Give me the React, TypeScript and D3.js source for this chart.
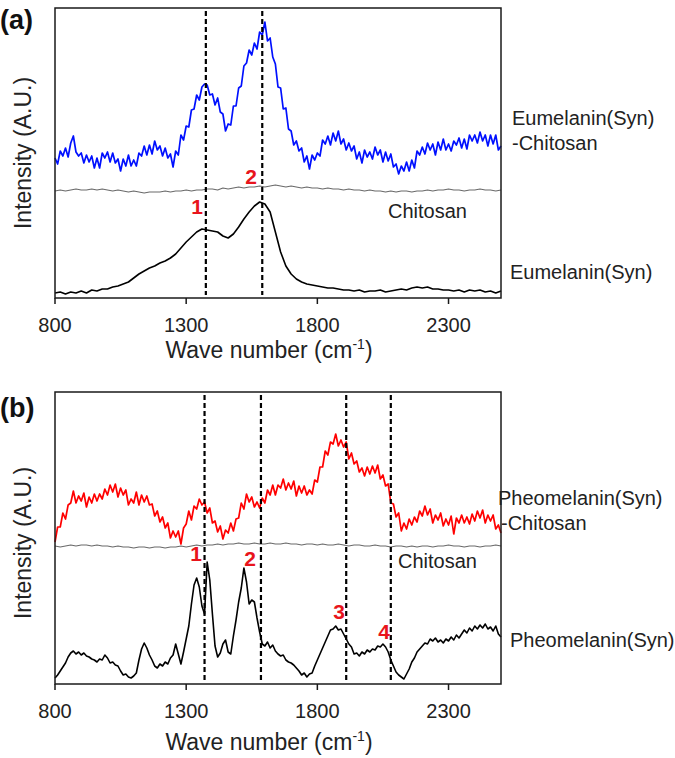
import React from 'react';
import * as d3 from 'd3';

// sampling grids (cm-1)
const waveFine = d3.range(800, 2501, 10);
const waveCoarse = d3.range(800, 2501, 20);
const xTicks = [800, 1300, 1800, 2300];

// (a) Eumelanin(Syn)-Chitosan, blue
const eumelaninChitosan = [
  140, 134, 147, 142, 150, 141, 155, 162, 146, 142,
  145, 135, 143, 136, 142, 130, 140, 130, 145, 140,
  146, 136, 145, 135, 139, 127, 139, 132, 143, 132,
  138, 132, 145, 142, 152, 143, 153, 144, 157, 148,
  152, 142, 150, 140, 144, 131, 147, 143, 163, 158,
  172, 171, 188, 189, 203, 198, 211, 214, 213, 203,
  204, 193, 200, 186, 184, 167, 174, 173, 192, 192,
  210, 212, 232, 235, 248, 243, 255, 249, 266, 263,
  276, 257, 260, 241, 234, 211, 210, 189, 190, 169,
  167, 153, 157, 147, 150, 136, 142, 129, 143, 138,
  145, 142, 158, 154, 162, 153, 165, 157, 167, 154,
  159, 148, 155, 147, 152, 139, 146, 135, 148, 141,
  146, 139, 151, 143, 148, 136, 146, 137, 144, 131,
  134, 124, 132, 127, 136, 127, 138, 130, 147, 143,
  151, 144, 155, 148, 154, 143, 156, 148, 159, 148,
  154, 147, 157, 153, 160, 150, 159, 149, 163, 157,
  163, 155, 166, 157, 163, 152, 163, 154, 163, 148,
  152,
];

// (a) Chitosan, gray
const chitosanA = [
  107, 108, 107, 108, 109, 108, 108, 109, 108, 109,
  108, 107, 108, 107, 106, 107, 106, 105, 106, 106,
  106, 107, 106, 107, 107, 108, 107, 108, 108, 109,
  109, 108, 110, 109, 110, 111, 110, 111, 111, 112,
  111, 112, 113, 112, 111, 112, 111, 110, 111, 110,
  110, 109, 110, 109, 109, 108, 109, 108, 108, 107,
  108, 107, 107, 106, 107, 106, 107, 107, 106, 107,
  107, 108, 107, 108, 108, 109, 108, 108, 107, 108,
  108, 109, 108, 108, 107,
  108,
];

// (a) Eumelanin(Syn), black
const eumelanin = [
  5, 6, 4, 6, 5, 7, 5, 8, 7, 9,
  9, 11, 12, 14, 16, 20, 24, 27, 30, 32,
  35, 37, 40, 44, 50, 56, 61, 66, 69, 68,
  67, 66, 62, 60, 64, 71, 79, 86, 92, 96,
  94, 86, 66, 46, 32, 24, 19, 16, 14, 13,
  12, 11, 10, 10, 9, 8, 8, 7, 8, 6,
  7, 7, 8, 6, 7, 8, 9, 8, 10, 11,
  10, 11, 9, 9, 8, 8, 7, 8, 6, 8,
  7, 8, 6, 7, 5,
  7,
];

// (b) Pheomelanin(Syn)-Chitosan, red
const pheomelaninChitosan = [
  142, 157, 157, 171, 165, 179, 181, 193, 181, 188,
  183, 191, 177, 187, 181, 190, 183, 190, 185, 195,
  189, 199, 192, 200, 187, 196, 189, 194, 179, 185,
  181, 192, 179, 189, 182, 188, 179, 180, 168, 173,
  162, 167, 156, 161, 146, 153, 147, 153, 140, 156,
  160, 173, 164, 178, 175, 185, 179, 182, 171, 176,
  161, 163, 152, 158, 145, 154, 151, 161, 153, 165,
  166, 181, 175, 190, 182, 187, 177, 182, 176, 186,
  181, 194, 189, 199, 189, 199, 196, 205, 194, 201,
  195, 203, 188, 198, 191, 198, 189, 194, 190, 204,
  202, 217, 217, 233, 229, 242, 240, 250, 238, 244,
  237, 242, 225, 231, 220, 223, 212, 216, 208, 217,
  210, 218, 211, 219, 205, 209, 198, 200, 181, 180,
  167, 171, 153, 161, 155, 165, 159, 167, 162, 173,
  168, 178, 169, 175, 161, 169, 164, 171, 158, 165,
  159, 168, 150, 166, 161, 169, 161, 167, 160, 170,
  163, 173, 166, 174, 161, 169, 163, 169, 155, 159,
  151,
];

// (b) Chitosan, gray
const chitosanB = [
  138, 137, 138, 139, 138, 139, 139, 138, 139, 138,
  138, 137, 138, 137, 137, 136, 137, 137, 136, 137,
  137, 136, 137, 137, 138, 137, 138, 139, 138, 139,
  139, 140, 139, 140, 140, 141, 140, 140, 141, 140,
  140, 141, 140, 140, 141, 140, 140, 139, 140, 140,
  139, 140, 139, 139, 140, 139, 138, 139, 139, 138,
  138, 139, 138, 138, 137, 138, 138, 137, 138, 137,
  138, 138, 137, 138, 138, 139, 138, 138, 137, 138,
  138, 137, 138, 138, 139,
  138,
];

// (b) Pheomelanin(Syn), black
const pheomelanin = [
  6, 9, 13, 17, 21, 27, 31, 33, 30, 32,
  29, 31, 28, 27, 25, 24, 22, 25, 24, 29,
  26, 21, 22, 19, 18, 13, 9, 10, 7, 6,
  8, 11, 24, 35, 41, 36, 29, 24, 18, 16,
  20, 18, 22, 20, 26, 29, 40, 30, 20, 32,
  45, 58, 80, 99, 106, 97, 78, 70, 122, 104,
  70, 38, 27, 31, 40, 44, 32, 30, 48, 64,
  82, 96, 116, 102, 80, 84, 82, 66, 52, 40,
  38, 42, 36, 39, 33, 30, 28, 29, 24, 22,
  21, 19, 16, 13, 9, 11, 7, 10, 11, 18,
  24, 30, 36, 42, 48, 54, 55, 58, 54, 55,
  50, 45, 40, 37, 30, 31, 28, 32, 30, 34,
  32, 35, 34, 38, 37, 40, 37, 32, 24, 18,
  12, 9, 7, 5, 10, 15, 22, 26, 32, 35,
  38, 41, 40, 45, 43, 46, 42, 44, 41, 45,
  43, 47, 44, 49, 46, 50, 54, 51, 56, 53,
  58, 55, 59, 56, 60, 55, 57, 53, 58, 50,
  47,
];

const bandsA = [1375, 1590];
const bandsB = [1370, 1585, 1910, 2080];

const FONT = '"Liberation Sans", Arial, Helvetica, sans-serif';
const LEFT = 55;
const RIGHT = 501;
const RED = '#e8141c';

type Series = { xs: number[]; ys: number[]; color: string; width: number };
type Label = { text: string; x: number; y: number; anchor?: string; red?: boolean };

interface PanelProps {
  top: number;
  bottom: number;
  yMax: number;
  letter: string;
  letterY: number;
  tickY: number;
  titleY: number;
  yTitleY: number;
  series: Series[];
  bands: number[];
  labels: Label[];
}

const Panel: React.FC<PanelProps> = ({
  top, bottom, yMax, letter, letterY, tickY, titleY, yTitleY, series, bands, labels,
}) => {
  const x = d3.scaleLinear().domain([800, 2500]).range([LEFT, RIGHT]);
  const y = d3.scaleLinear().domain([0, yMax]).range([bottom, top]);

  return (
    <g>
      {series.map((s, i) => {
        const path = d3.line<number>()
          .x((_, j) => x(s.xs[j]))
          .y(d => y(d))(s.ys);
        return (
          <path key={i} d={path || ''} fill="none" stroke={s.color}
            strokeWidth={s.width} strokeLinejoin="round" />
        );
      })}

      {bands.map(b => (
        <line key={b} x1={x(b)} x2={x(b)} y1={top + 3} y2={bottom - 3}
          stroke="#000" strokeWidth={2.2} strokeDasharray="5,3" />
      ))}

      <rect x={LEFT} y={top} width={RIGHT - LEFT} height={bottom - top}
        fill="none" stroke="#1a1a1a" strokeWidth={1.5} />

      {xTicks.map(t => (
        <g key={t}>
          <line x1={x(t)} x2={x(t)} y1={bottom} y2={bottom + 6} stroke="#1a1a1a" strokeWidth={1.5} />
          <text x={x(t)} y={tickY} textAnchor="middle" fontSize={20} fill="#222">{t}</text>
        </g>
      ))}

      <text x={269} y={titleY} textAnchor="middle" fontSize={23} fill="#222">
        Wave number (cm<tspan fontSize={14} dy={-9}>-1</tspan><tspan dy={9}>)</tspan>
      </text>

      <text transform={`translate(31, ${yTitleY}) rotate(-90)`} textAnchor="middle"
        fontSize={23} fill="#222">Intensity (A.U.)</text>

      <text x={0} y={letterY} fontSize={27} fontWeight="bold" fill="#111">{letter}</text>

      {labels.map((l, i) => (
        <text key={i} x={l.x} y={l.y} textAnchor={l.anchor || 'start'}
          fontSize={l.red ? 21 : 20} fontWeight={l.red ? 'bold' : 'normal'}
          fill={l.red ? RED : '#222'}>{l.text}</text>
      ))}
    </g>
  );
};

export default function App() {
  return (
    <svg width={675} height={758} viewBox="0 0 675 758"
      style={{ position: 'absolute', left: 0, top: 0, background: '#fff' }}
      fontFamily={FONT}>
      <rect width={675} height={758} fill="#fff" />
      <Panel
        top={8} bottom={298} yMax={290}
        letter="(a)" letterY={29} tickY={332} titleY={358} yTitleY={153}
        series={[
          { xs: waveFine, ys: eumelaninChitosan, color: '#0010ff', width: 1.7 },
          { xs: waveCoarse, ys: chitosanA, color: '#6a6a6a', width: 1.2 },
          { xs: waveCoarse, ys: eumelanin, color: '#000', width: 1.6 },
        ]}
        bands={bandsA}
        labels={[
          { text: 'Eumelanin(Syn)', x: 512, y: 125 },
          { text: '-Chitosan', x: 512, y: 150 },
          { text: 'Chitosan', x: 388, y: 218 },
          { text: 'Eumelanin(Syn)', x: 510, y: 279 },
          { text: '1', x: 197, y: 214, anchor: 'middle', red: true },
          { text: '2', x: 251, y: 184, anchor: 'middle', red: true },
        ]}
      />
      <Panel
        top={392} bottom={684} yMax={292}
        letter="(b)" letterY={417} tickY={718} titleY={750} yTitleY={543}
        series={[
          { xs: waveFine, ys: pheomelaninChitosan, color: '#ff0000', width: 1.7 },
          { xs: waveCoarse, ys: chitosanB, color: '#6a6a6a', width: 1.2 },
          { xs: waveFine, ys: pheomelanin, color: '#000', width: 1.6 },
        ]}
        bands={bandsB}
        labels={[
          { text: 'Pheomelanin(Syn)', x: 498, y: 505 },
          { text: '-Chitosan', x: 501, y: 530 },
          { text: 'Chitosan', x: 398, y: 568 },
          { text: 'Pheomelanin(Syn)', x: 510, y: 647 },
          { text: '1', x: 196, y: 561, anchor: 'middle', red: true },
          { text: '2', x: 250, y: 566, anchor: 'middle', red: true },
          { text: '3', x: 339, y: 619, anchor: 'middle', red: true },
          { text: '4', x: 384, y: 639, anchor: 'middle', red: true },
        ]}
      />
    </svg>
  );
}
